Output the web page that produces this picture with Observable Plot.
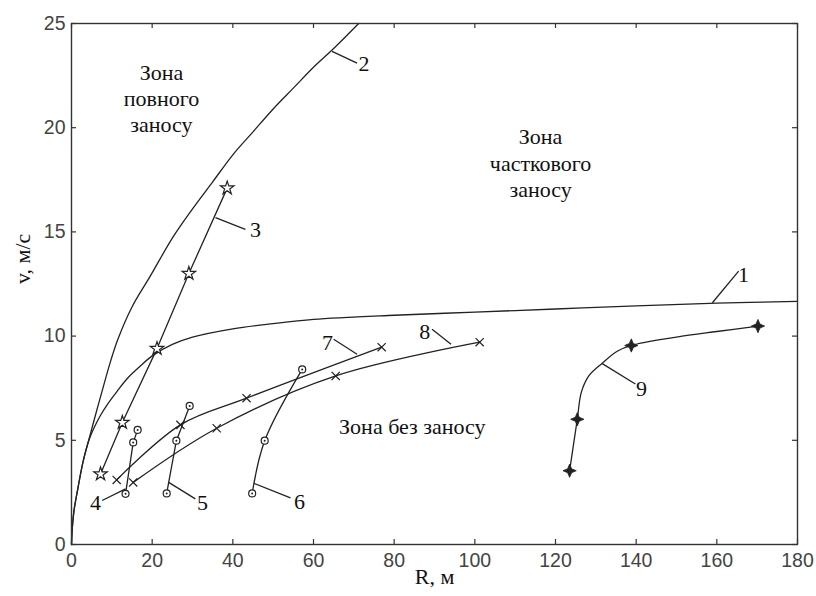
<!DOCTYPE html>
<html><head><meta charset="utf-8">
<script src="https://cdn.jsdelivr.net/npm/d3@7"></script>
<script src="https://cdn.jsdelivr.net/npm/@observablehq/plot@0.6"></script>
<style>body{margin:0;background:#fff}</style>
</head><body><div id="chart"></div>
<script>
// ---- axis ticks ----
const xTicks = [0, 20, 40, 60, 80, 100, 120, 140, 160, 180];
const yTicks = [0, 5, 10, 15, 20, 25];

// ---- curve 1 (boundary of partial skid) ----
const c1R = [0, 0.2, 0.6, 1.4, 2.9, 4.4, 5.6, 7.2, 9, 11.3, 14, 17, 20, 25, 30, 40, 50, 60, 80, 100, 120, 140, 160, 180];
const c1V = [0, 0.8, 1.6, 2.5, 4.0, 5.05, 5.6, 6.2, 6.75, 7.35, 8.0, 8.55, 9.05, 9.6, 9.95, 10.35, 10.6, 10.8, 11.0, 11.15, 11.3, 11.45, 11.58, 11.67];
// ---- curve 2 (boundary of full skid) ----
const c2R = [0, 0.2, 0.6, 1.4, 2.9, 4.4, 6, 7.5, 9.7, 11.5, 15, 19.6, 25, 30, 35, 40, 45, 50, 55, 60, 65, 71.2];
const c2V = [0, 0.8, 1.6, 2.5, 4.0, 5.1, 6.25, 7.3, 8.8, 9.85, 11.4, 12.9, 14.7, 16.1, 17.4, 18.7, 19.8, 20.9, 21.9, 22.9, 23.8, 25];
// ---- curve 3 (stars) ----
const c3R = [7.2, 12.6, 21.2, 29.1, 38.6];
const c3V = [3.38, 5.85, 9.4, 13.0, 17.1];
// ---- curves 4, 5, 6 (circles) ----
const c4R = [13.4, 15.3, 16.4];
const c4V = [2.43, 4.9, 5.5];
const c5R = [23.6, 26.0, 29.3];
const c5V = [2.45, 4.98, 6.65];
const c6R = [44.8, 47.9, 57.2];
const c6V = [2.45, 4.98, 8.4];
// ---- curves 7, 8 (crosses) ----
const c7R = [11.2, 27.0, 43.4, 76.9];
const c7V = [3.1, 5.74, 7.02, 9.47];
const c8R = [15.3, 36.0, 65.5, 101.2];
const c8V = [2.98, 5.58, 8.09, 9.71];
// ---- curve 9 (four-point stars) ----
const c9R = [123.5, 125.4, 138.8, 170.2];
const c9V = [3.54, 6.01, 9.55, 10.48];
const c9LineR = [123.5, 125.4, 126.4, 128.3, 131.6, 135.3, 138.8, 150, 160, 170.2];
const c9LineV = [3.54, 6.01, 7.3, 8.1, 8.7, 9.27, 9.55, 9.95, 10.22, 10.48];

// ---- curve number labels and leader lines ----
const numLabels = ["1", "2", "3", "4", "5", "6", "7", "8", "9"];
const numR = [166.6, 72.5, 45.6, 5.95, 32.5, 56.5, 63.5, 87.6, 141.3];
const numV = [12.93, 23.04, 15.09, 2.01, 2.01, 2.06, 9.65, 10.2, 7.47];
const leadR1 = [158.9, 64.6, 35.7, 13.4, 24.1, 45.2, 65.0, 89.4, 131.6];
const leadV1 = [11.60, 23.66, 15.68, 2.67, 2.98, 2.94, 9.85, 10.33, 8.68];
const leadR2 = [165.4, 70.8, 43.1, 7.6, 30.7, 54.3, 70.8, 94.1, 139.8];
const leadV2 = [13.12, 23.1, 15.12, 2.11, 2.19, 2.24, 9.13, 9.61, 7.70];

// ---- zone labels ----
const zoneText = ["Зона\nповного\nзаносу", "Зона\nчасткового\nзаносу", "Зона без заносу"];
const zoneR = [22.3, 116.3, 84.5];
const zoneV = [21.45, 18.35, 5.7];

const xTitle = "R, м";
const yTitle = "v, м/с";

// ---- build tables ----
const pts = (R, V) => R.map((r, i) => ({r, v: V[i]}));
const c1 = pts(c1R, c1V), c2 = pts(c2R, c2V), c3 = pts(c3R, c3V);
const c4 = pts(c4R, c4V), c5 = pts(c5R, c5V), c6 = pts(c6R, c6V);
const c7 = pts(c7R, c7V), c8 = pts(c8R, c8V);
const c9 = pts(c9R, c9V), c9line = pts(c9LineR, c9LineV);
const labels = numLabels.map((t, i) => ({t, r: numR[i], v: numV[i]}));
const leaders = numLabels.map((t, i) => ({r1: leadR1[i], v1: leadV1[i], r2: leadR2[i], v2: leadV2[i]}));
const zones = zoneText.map((t, i) => ({t, r: zoneR[i], v: zoneV[i]}));

const W = 816, H = 596, mL = 71, mR = 19, mT = 23, mB = 52;
const innerW = W - mL - mR, innerH = H - mT - mB;
const ink = "#222";
const serif = "Liberation Serif, Times New Roman, serif";
const sans = "Liberation Sans, Arial, sans-serif";

// four-point star symbol
const star4 = {
  draw(ctx, size) {
    const r = Math.sqrt(size) * 0.75, w = r * 0.3;
    ctx.moveTo(0, -r); ctx.lineTo(w, -w); ctx.lineTo(r, 0); ctx.lineTo(w, w);
    ctx.lineTo(0, r); ctx.lineTo(-w, w); ctx.lineTo(-r, 0); ctx.lineTo(-w, -w);
    ctx.closePath();
  }
};

const lineOpts = {x: "r", y: "v", stroke: ink, strokeWidth: 1.3, curve: "catmull-rom"};

const chart = Plot.plot({
  width: W, height: H,
  marginLeft: mL, marginRight: mR, marginTop: mT, marginBottom: mB,
  x: {domain: [0, 180], axis: null},
  y: {domain: [0, 25], axis: null},
  style: {background: "#fff"},
  marks: [
    // curves
    Plot.line(c1, lineOpts),
    Plot.line(c2, lineOpts),
    Plot.line(c3, {...lineOpts, curve: "linear"}),
    Plot.line(c4, {...lineOpts, curve: "linear"}),
    Plot.line(c5, {...lineOpts, curve: "linear"}),
    Plot.line(c6, lineOpts),
    Plot.line(c7, lineOpts),
    Plot.line(c8, lineOpts),
    Plot.line(c9line, lineOpts),
    // markers
    Plot.dot(c3, {x: "r", y: "v", symbol: "star", r: 4.2, stroke: ink, strokeWidth: 1.2, fill: "#fff"}),
    Plot.dot([...c4, ...c5, ...c6], {x: "r", y: "v", symbol: "circle", r: 3.5, stroke: ink, strokeWidth: 1.2, fill: "#fff"}),
    Plot.dot([...c4, ...c5, ...c6], {x: "r", y: "v", r: 1, fill: ink}),
    Plot.dot([...c7, ...c8], {x: "r", y: "v", symbol: "times", r: 3.8, stroke: ink, strokeWidth: 1.2}),
    Plot.dot(c9, {x: "r", y: "v", symbol: star4, r: 5, fill: ink, stroke: ink, strokeWidth: 0.8}),
    // leaders and numbers
    Plot.link(leaders, {x1: "r1", y1: "v1", x2: "r2", y2: "v2", stroke: ink, strokeWidth: 1.3}),
    Plot.text(labels, {x: "r", y: "v", text: "t", fontSize: 22, fontFamily: serif, fill: "#111"}),
    // zone captions
    Plot.text(zones, {x: "r", y: "v", text: "t", fontSize: 22, fontFamily: serif, fill: "#111", lineHeight: 1.2}),
    // frame and inward ticks
    Plot.frame({stroke: "#333", strokeWidth: 1.4}),
    Plot.tickX(xTicks, {x: d => d, insetTop: innerH - 5, stroke: "#333", strokeWidth: 1.2}),
    Plot.tickX(xTicks, {x: d => d, insetBottom: innerH - 5, stroke: "#333", strokeWidth: 1.2}),
    Plot.tickY(yTicks, {y: d => d, insetRight: innerW - 5, stroke: "#333", strokeWidth: 1.2}),
    Plot.tickY(yTicks, {y: d => d, insetLeft: innerW - 5, stroke: "#333", strokeWidth: 1.2}),
    // tick labels
    Plot.axisX(xTicks, {anchor: "bottom", tickSize: 0, tickPadding: 9, label: null, fontSize: 19.5, fontFamily: sans, fill: "#444", tickFormat: d => String(d)}),
    Plot.axisY(yTicks, {anchor: "left", tickSize: 0, tickPadding: 6, label: null, fontSize: 19.5, fontFamily: sans, fill: "#444", tickFormat: d => String(d)}),
    // axis titles
    Plot.text([xTitle], {frameAnchor: "bottom", dy: 39, text: d => d, fontSize: 22, fontFamily: serif, fill: "#111"}),
    Plot.text([yTitle], {frameAnchor: "left", dx: -49, rotate: -90, text: d => d, fontSize: 22, fontFamily: serif, fill: "#111"})
  ]
});
document.getElementById("chart").appendChild(chart);
</script>
</body></html>
